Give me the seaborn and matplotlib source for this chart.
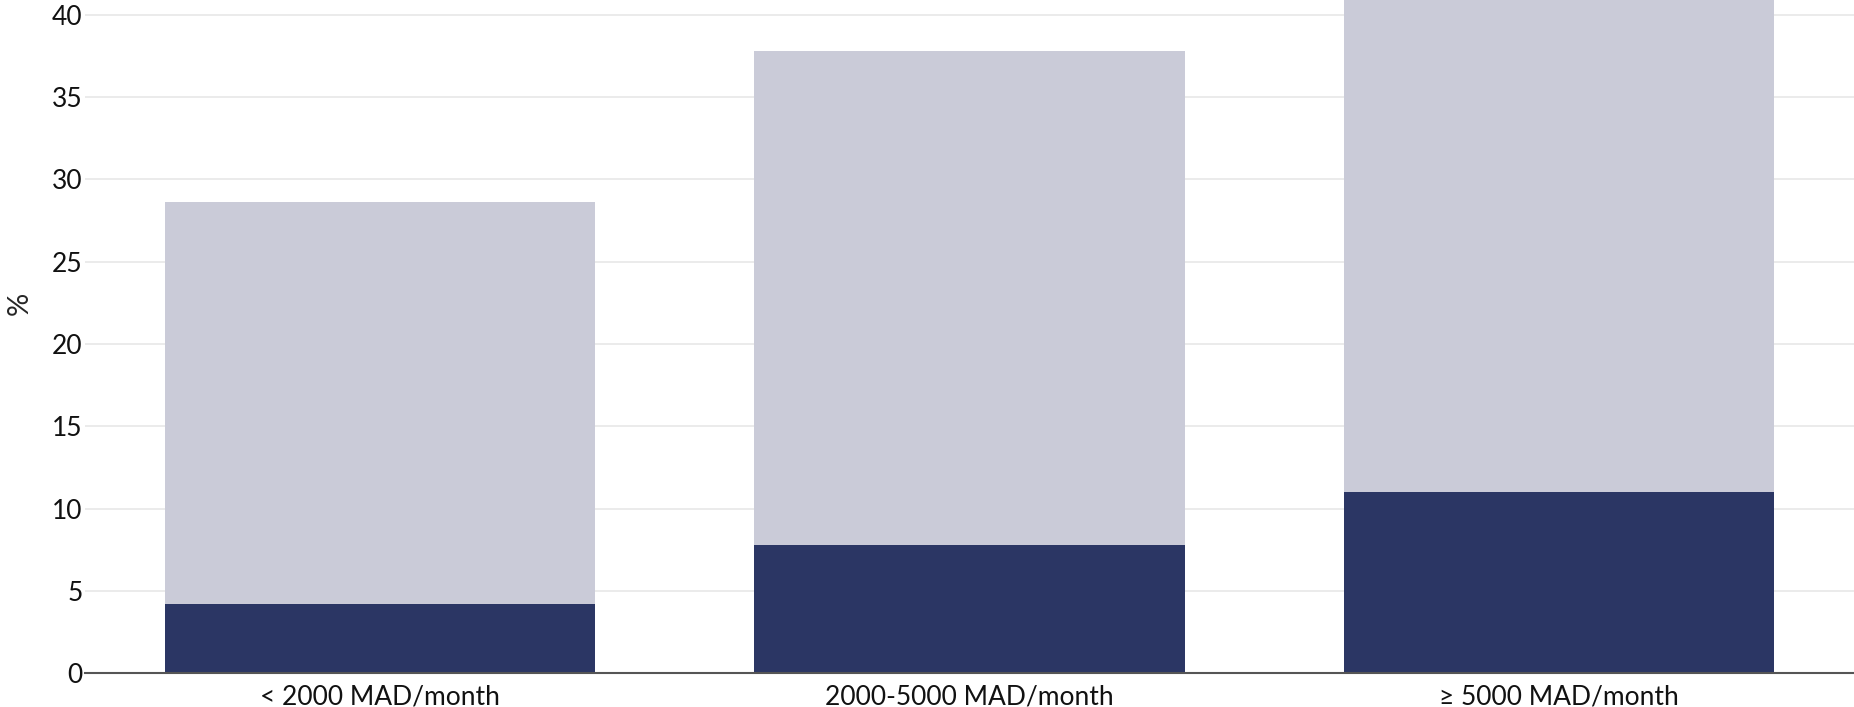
import matplotlib
matplotlib.use("Agg")
import pandas as pd
import matplotlib.pyplot as plt
import seaborn as sns

categories = ["< 2000 MAD/month", "2000-5000 MAD/month", "≥ 5000 MAD/month"]
dark_values = [4.2, 7.8, 11.0]
total_values = [28.6, 37.8, 46.0]

df = pd.DataFrame({"category": categories, "dark": dark_values, "total": total_values})

sns.set_theme(style="white")
plt.rcParams["font.family"] = ["Lato", "DejaVu Sans"]

fig = plt.figure(figsize=(18.54, 7.07), dpi=100)
ax = fig.add_axes([0.0459, 0.048, 0.9541, 0.952])

sns.barplot(data=df, x="category", y="total", color="#cacbd8", width=0.73,
            saturation=1, linewidth=0, ax=ax, zorder=2)
sns.barplot(data=df, x="category", y="dark", color="#2b3664", width=0.73,
            saturation=1, linewidth=0, ax=ax, zorder=3)

ax.set_xlim(-0.5, 2.5)
ax.set_ylim(0, 40.9)
ax.set_yticks(range(0, 41, 5))
ax.yaxis.grid(True, color="#e8e8e8", linewidth=1.2, zorder=0)
ax.set_axisbelow(True)
for s in ["left", "right", "top"]:
    ax.spines[s].set_visible(False)
ax.spines["bottom"].set_color("#555555")
ax.spines["bottom"].set_linewidth(1.5)
ax.spines["bottom"].set_zorder(4)
ax.tick_params(axis="both", length=0, labelsize=19, colors="#111111")
ax.tick_params(axis="x", pad=8)
ax.tick_params(axis="y", pad=2)
ax.set_xlabel("")
ax.set_ylabel("%", fontsize=21)
ax.yaxis.set_label_coords(-0.0295, 0.55)

fig.savefig("out.png", dpi=100)
